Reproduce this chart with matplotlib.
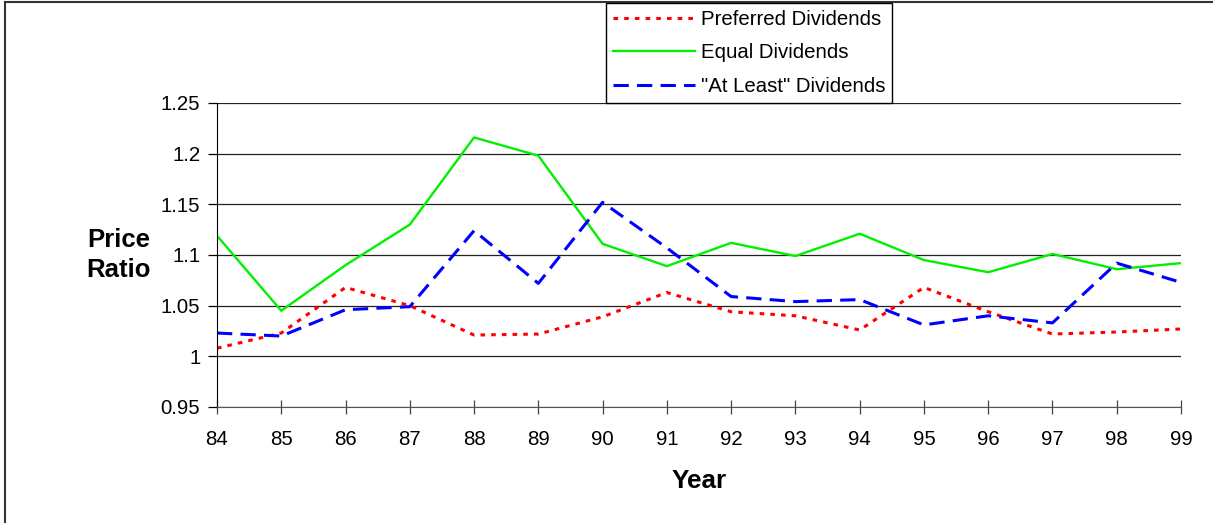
import matplotlib
matplotlib.use("Agg")
import matplotlib.pyplot as plt
from matplotlib.patches import Rectangle

plt.rcParams['font.family'] = ['Liberation Sans', 'DejaVu Sans']

# data
years = [84, 85, 86, 87, 88, 89, 90, 91, 92, 93, 94, 95, 96, 97, 98, 99]
preferred = [1.008, 1.023, 1.068, 1.050, 1.021, 1.022, 1.039, 1.063, 1.044,
             1.040, 1.026, 1.068, 1.044, 1.022, 1.024, 1.027]
equal = [1.119, 1.045, 1.090, 1.130, 1.216, 1.198, 1.111, 1.089, 1.112,
         1.099, 1.121, 1.095, 1.083, 1.101, 1.086, 1.092]
at_least = [1.023, 1.020, 1.046, 1.049, 1.124, 1.072, 1.152, 1.107, 1.059,
            1.054, 1.056, 1.031, 1.040, 1.033, 1.092, 1.073]
yticks = [0.95, 1.0, 1.05, 1.1, 1.15, 1.2, 1.25]
ytick_labels = ["0.95", "1", "1.05", "1.1", "1.15", "1.2", "1.25"]

W, H = 1213, 523
fig = plt.figure(figsize=(W / 100, H / 100), dpi=100)
ax = fig.add_axes([217 / W, 1 - 407 / H, (1181 - 217) / W, (407 - 103) / H])

l1, = ax.plot(years, preferred, color="#ff0000", lw=2.2, linestyle=(0, (1.5, 2.0)),
              label="Preferred Dividends")
l2, = ax.plot(years, equal, color="#00f000", lw=1.7, label="Equal Dividends")
l3, = ax.plot(years, at_least, color="#0000ff", lw=2.2, linestyle=(0, (5, 2.7)),
              label='"At Least" Dividends')

ax.set_xlim(84, 99)
ax.set_ylim(0.95, 1.25)
ax.set_xticks(years)
ax.set_xticklabels([str(y) for y in years])
ax.set_yticks(yticks)
ax.set_yticklabels(ytick_labels)
ax.grid(axis="y", color="#222222", lw=0.9)
ax.set_axisbelow(True)

for s in ["top", "right"]:
    ax.spines[s].set_visible(False)
ax.spines["left"].set_color("black")
ax.spines["bottom"].set_color("#555555")
ax.tick_params(axis="x", direction="inout", length=9.5, width=0.9, color="#444444",
               labelsize=14.7, pad=12)
ax.tick_params(axis="y", direction="out", length=6.5, width=0.9, color="black",
               labelsize=14.7, pad=5.5)

fig.text(119 / W, 1 - 255 / H, "Price\nRatio", ha="center", va="center",
         fontsize=18.5, fontweight="bold", linespacing=1.3)
fig.text(699 / W, 1 - 488 / H, "Year", ha="center", va="baseline",
         fontsize=18.8, fontweight="bold")

leg = fig.legend(handles=[l1, l2, l3], loc="upper left",
                 bbox_to_anchor=(606 / W, 1 - 3 / H), borderaxespad=0,
                 fontsize=14.7, handlelength=4.05, labelspacing=0.72,
                 borderpad=0.33, handletextpad=0.25, fancybox=False,
                 framealpha=1, edgecolor="black")
leg.get_frame().set_linewidth(1.0)

# outer chart frame
fig.patches.append(Rectangle((5 / W, -0.05), 1.2, 1.05 - 2 / H, transform=fig.transFigure,
                             fill=False, edgecolor="#333333", lw=1.5))

fig.savefig("out.png", dpi=100)
